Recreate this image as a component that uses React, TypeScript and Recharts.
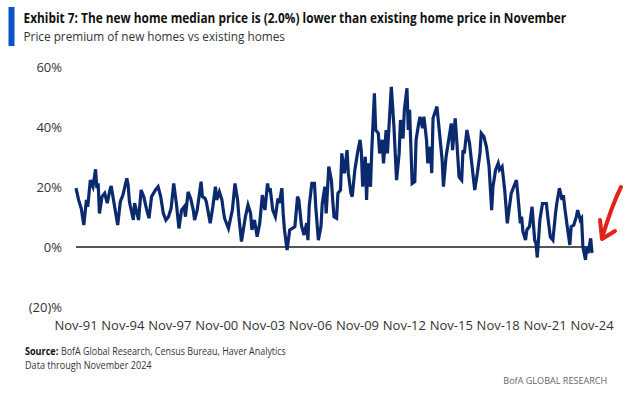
import React, { useLayoutEffect, useRef, useState } from "react";
import { LineChart, Line, XAxis, YAxis, ReferenceLine } from "recharts";

// x axis labels, one every 36 months starting Nov-1991
const tickLabels = [
  "Nov-91", "Nov-94", "Nov-97", "Nov-00", "Nov-03", "Nov-06",
  "Nov-09", "Nov-12", "Nov-15", "Nov-18", "Nov-21", "Nov-24",
];

// months since Nov-1991 of each reading
const monthOffset = [
  0, 2, 4, 6, 8, 9, 11, 13, 15, 16, 17, 18, 20, 22, 24, 26, 27, 29, 32, 34,
  36, 39, 40, 41, 44, 45, 48, 50, 52, 54, 56, 58, 61, 63, 65, 67, 69, 71, 73, 75,
  77, 79, 81, 83, 84, 86, 88, 90, 91, 93, 96, 97, 99, 100, 103, 105, 107, 108, 110, 112,
  113, 114, 117, 120, 122, 124, 125, 127, 130, 132, 134, 135, 137, 139, 141, 143, 145, 147, 148, 149,
  151, 153, 155, 156, 158, 159, 160, 162, 164, 166, 168, 170, 171, 173, 175, 177, 178, 179, 181, 183,
  184, 186, 188, 189, 191, 192, 194, 196, 197, 198, 200, 201, 203, 204, 206, 208, 209, 211, 212, 214,
  216, 218, 219, 220, 222, 223, 224, 226, 227, 229, 230, 232, 233, 235, 236, 238, 239, 242, 244, 246,
  248, 249, 251, 252, 254, 255, 256, 258, 260, 261, 263, 264, 266, 267, 269, 270, 272, 273, 274, 277,
  279, 281, 282, 284, 286, 288, 289, 291, 292, 294, 296, 297, 298, 300, 302, 304, 306, 308, 310, 311,
  313, 315, 317, 319, 320, 322, 324, 325, 327, 329, 331, 333, 334, 336, 338, 339, 341, 342, 343, 345,
  346, 348, 350, 352, 353, 354, 356, 358, 361, 362, 364, 366, 368, 369, 371, 373, 374, 375, 377, 379,
  380, 382, 384, 385, 387, 388, 389, 391, 392, 393, 395, 396,
];

// price premium of new homes vs existing homes, %
const premium = [
  19.6, 15.7, 12.9, 7.3, 15.7, 13.4, 22.3, 20.1, 25.9, 19.6, 21.2, 11.2, 16.8, 17.9, 14.6, 19, 20.3, 15.1, 7.3, 15.1,
  17.3, 22.9, 20.7, 15.1, 9, 14.6, 9, 19, 16.8, 12.9, 9.6, 16.8, 19, 20.1, 16.8, 11.2, 9, 10.1, 12.9, 21.2,
  14.6, 6.2, 12.3, 13.4, 10.1, 18.4, 16.2, 12.3, 9, 12.3, 21.8, 16.8, 16.2, 15.1, 7.9, 13.4, 20.1, 15.7, 18.4, 15.7,
  12.3, 9.6, 6.2, 12.3, 21.2, 15.7, 10.1, 1.8, 10.1, 14, 11.2, 5.7, 9, 3.4, 7.9, 17.3, 12.3, 21.2, 18.4, 19.6,
  12.3, 10.1, 16.2, 14.6, 19.6, 11.2, 5.7, -1, 5.7, 6.2, 6.8, 16.8, 15.7, 7.3, 4, 8, 2.3, 13.7, 21.2, 21.2,
  13.4, 2.3, 6.8, 14.6, 20.1, 11.2, 26.8, 22.3, 15.7, 10.1, 9.6, 17.9, 19, 31.2, 24.6, 32.3, 24.6, 17.9, 16.8, 25.7,
  31.2, 35.7, 31.8, 20.1, 30.1, 15.7, 27.9, 20.1, 32.3, 51.2, 39, 37.9, 31.2, 35.7, 27.9, 39, 31.2, 53.4, 40.1, 22.3,
  31.2, 42.3, 36.2, 45.7, 52.9, 39, 45.7, 21.2, 21.8, 35.7, 41.2, 43.4, 39.6, 43.4, 35.7, 27.9, 33.4, 24.6, 42.9, 46.8,
  37.9, 29, 20.1, 30.1, 35.7, 41.2, 32.3, 42.9, 36.8, 23.4, 22.3, 32.3, 31.2, 39, 34.6, 26.8, 19, 24.6, 31.2, 37.9,
  36.8, 33.4, 26.8, 12.3, 20.1, 25.7, 27.9, 25.7, 26.8, 19, 7.9, 14.6, 17.9, 20.1, 22.3, 17.9, 7.9, 10.1, 5.1, 2.3,
  5.7, 6.8, 13.4, 2.3, 1.2, -3.5, 9, 14.5, 14.5, 10.4, 3.4, 2.3, 11.2, 14.6, 19.6, 15.7, 17.3, 13.4, 6.8, 0.7,
  6.8, 7.3, 10.1, 12.3, 9, 9.6, 0.1, -4.3, 0.1, -2.1, 2.9, -2,
];

const yTicks = [-20, 0, 20, 40, 60];

const data = monthOffset.map((m, i) => ({ m, premium: premium[i] }));
const xTicks = tickLabels.map((_, i) => i * 36);

const pctLabel = (v: number) => (v < 0 ? `(${Math.abs(v)})%` : `${v}%`);

const font = '"Open Sans", "Liberation Sans", sans-serif';

// squeezes a text horizontally so it spans the given width (condensed look of the original)
const FitText = ({ x, y, width, children, ...rest }: any) => {
  const ref = useRef<SVGTextElement>(null);
  const [sx, setSx] = useState(1);
  useLayoutEffect(() => {
    if (ref.current) {
      const w = ref.current.getComputedTextLength();
      if (w > 0) setSx(width / w);
    }
  }, [width]);
  return (
    <text ref={ref} x={0} y={0} transform={`translate(${x},${y}) scale(${sx},1)`} {...rest}>
      {children}
    </text>
  );
};

export default function App() {
  return (
    <div
      style={{
        position: "absolute",
        left: 0,
        top: 0,
        width: 634,
        height: 394,
        background: "#fff",
        overflow: "hidden",
      }}
    >
      <div style={{ position: "absolute", left: 0, top: 0 }}>
        <LineChart width={634} height={394} data={data} margin={{ top: 67, right: 42, bottom: 57, left: 0 }}>
          <XAxis
            dataKey="m"
            type="number"
            domain={[0, 396]}
            ticks={xTicks}
            tickFormatter={(v) => tickLabels[Math.round(v / 36)]}
            axisLine={false}
            tickLine={false}
            tickMargin={8}
            height={30}
            interval={0}
            tick={{ fill: "#333", fontSize: 13, fontFamily: font }}
          />
          <YAxis
            type="number"
            domain={[-20, 60]}
            ticks={yTicks}
            tickFormatter={pctLabel}
            axisLine={false}
            tickLine={false}
            tickMargin={8}
            width={76}
            tick={{ fill: "#333", fontSize: 13, fontFamily: font }}
          />
          <ReferenceLine y={0} stroke="#555" strokeWidth={2} />
          <Line
            type="linear"
            dataKey="premium"
            stroke="#0b2a6e"
            strokeWidth={3.2}
            dot={false}
            isAnimationActive={false}
          />
        </LineChart>
      </div>

      <svg
        width={634}
        height={394}
        style={{ position: "absolute", left: 0, top: 0, pointerEvents: "none" }}
        fontFamily={font}
      >
        <rect x={8.5} y={7} width={6} height={39} fill="#0a52c6" />
        <FitText x={23.5} y={22.7} width={543} fontSize={14} fontWeight={700} fill="#111">
          Exhibit 7: The new home median price is (2.0%) lower than existing home price in November
        </FitText>
        <FitText x={23.5} y={40.7} width={261.5} fontSize={13.5} fill="#333">
          Price premium of new homes vs existing homes
        </FitText>
        <FitText x={25} y={355} width={33.3} fontSize={10} fontWeight={700} fill="#111">
          Source:
        </FitText>
        <FitText x={61} y={355} width={225} fontSize={10} fill="#333">
          BofA Global Research, Census Bureau, Haver Analytics
        </FitText>
        <FitText x={25} y={369.3} width={126.7} fontSize={10} fill="#333">
          Data through November 2024
        </FitText>
        <FitText x={503.3} y={384.3} width={104} fontSize={9.5} fill="#666">
          BofA GLOBAL RESEARCH
        </FitText>
        <path
          d="M621 187 Q612 205 602 238 M600 220 L602 239 L615 231"
          fill="none"
          stroke="#e2231a"
          strokeWidth={4}
          strokeLinecap="round"
          strokeLinejoin="round"
        />
      </svg>
    </div>
  );
}
